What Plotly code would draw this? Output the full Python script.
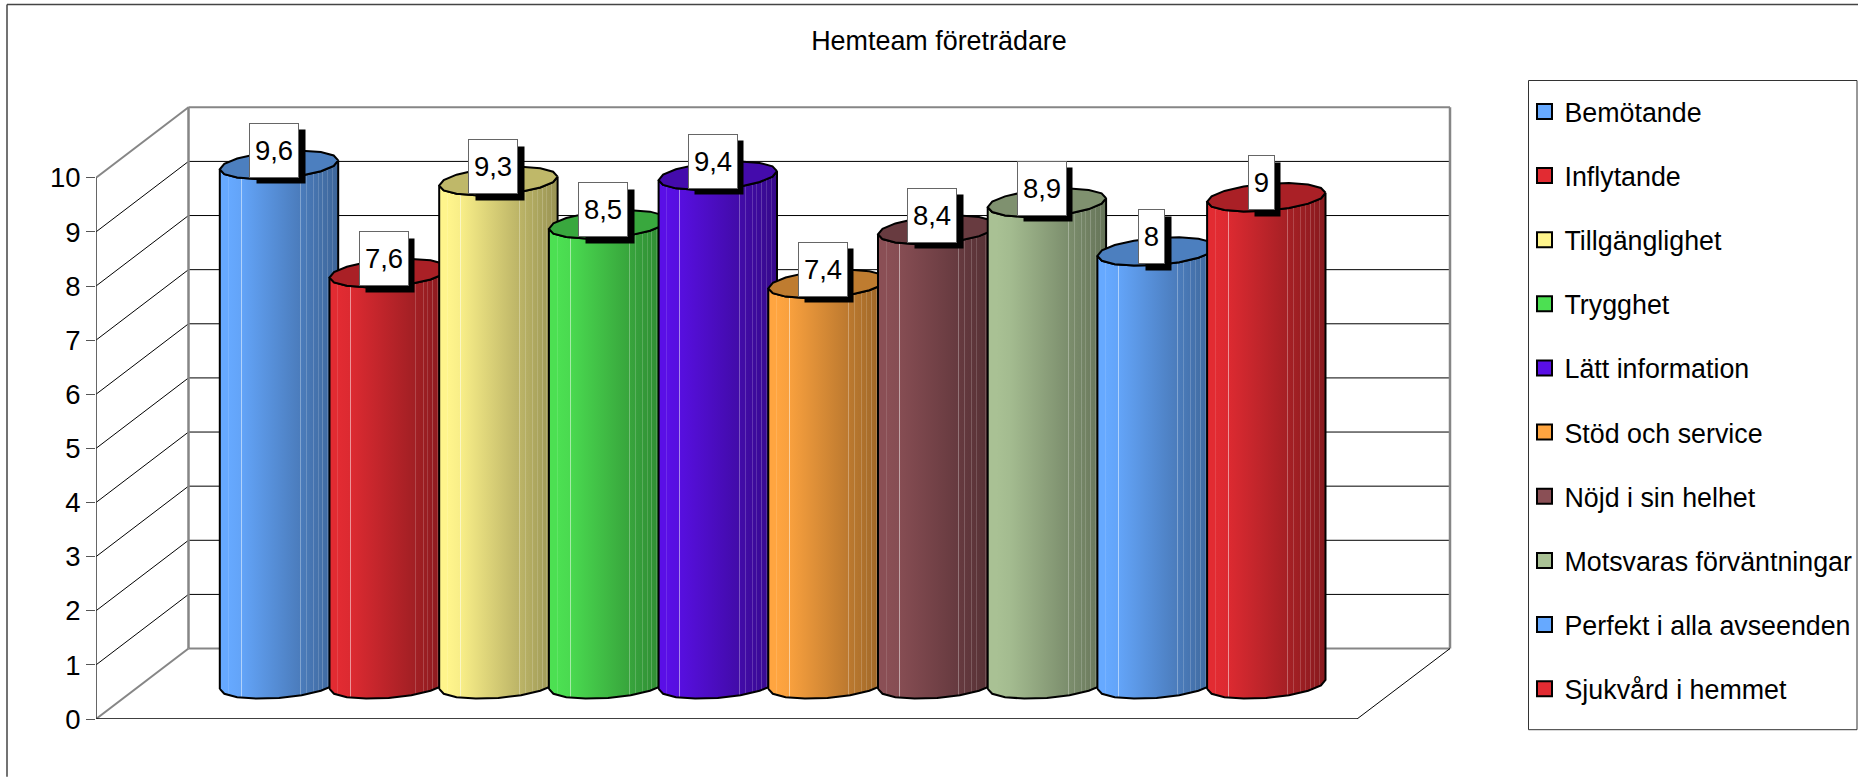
import math
import plotly.graph_objects as go

categories = ["Bemötande", "Inflytande", "Tillgänglighet", "Trygghet", "Lätt information",
              "Stöd och service", "Nöjd i sin helhet", "Motsvaras förväntningar",
              "Perfekt i alla avseenden", "Sjukvård i hemmet"]
values = [9.6, 7.6, 9.3, 8.5, 9.4, 7.4, 8.4, 8.9, 8, 9]
colors = ["#66A9FF", "#E22B32", "#FFF58C", "#4CE052", "#5A0FE6",
          "#FFA540", "#8A4F55", "#A9C194", "#66A9FF", "#E22B32"]
y_ticks = list(range(0, 11))
title_text = "Hemteam företrädare"

W, H = 1858, 777
FONT = "Liberation Sans"
FS = 26.9
FS_LABEL = 27.5
FS_LEG = 26.8
PX_CAT = 109.7      # pixels per category
PX_UNIT = 54.15     # pixels per value unit
X0_PX = 279.0       # pixel of category 0
Y0_PX = 719.3       # pixel of value 0
L_PX, R_PX, T_PX = 96.0, 1500.0, 90.0


def xd(px):
    return (px - X0_PX) / PX_CAT


def dy(px):
    return px / PX_UNIT


BASE_LIFT = dy(Y0_PX - 684.7)
A = 59.2 / PX_CAT
B = dy(13.5)
TILT = dy(4.5)
N = 16


def shade(hexc, f):
    r, g, b = int(hexc[1:3], 16), int(hexc[3:5], 16), int(hexc[5:7], 16)
    return f"rgb({round(r*f)},{round(g*f)},{round(b*f)})"


def lighten(hexc, f, amt):
    r, g, b = int(hexc[1:3], 16) * f, int(hexc[3:5], 16) * f, int(hexc[5:7], 16) * f
    return f"rgb({round(r+(255-r)*amt)},{round(g+(255-g)*amt)},{round(b+(255-b)*amt)})"


def sh(t):
    if t < 0.12:
        return 1.0
    if t < 0.67:
        return 1.0 - 0.26 * (t - 0.12) / 0.55
    return 0.74 - 0.14 * (t - 0.67) / 0.33


LINES = [(0.07, 0.12), (0.18, 0.5), (0.68, 0.3), (0.73, 0.18), (0.79, 0.18),
         (0.83, 0.15), (0.87, 0.2), (0.91, 0.15), (0.95, 0.15)]


def gradient(c):
    stops = [[0.0, shade(c, 1.0)]]
    for t, amt in LINES:
        stops += [[t - 0.004, shade(c, sh(t))], [t - 0.004, lighten(c, sh(t), amt)],
                  [t + 0.004, lighten(c, sh(t), amt)], [t + 0.004, shade(c, sh(t))]]
    stops.append([1.0, shade(c, sh(1.0))])
    return stops


def rim(cx, cy, a0, a1, n):
    xs, ys = [], []
    for i in range(n + 1):
        th = math.radians(a0 + (a1 - a0) * i / n)
        xs.append(cx + A * math.cos(th))
        ys.append(cy + B * math.sin(th) + TILT * math.cos(th))
    return xs, ys


fig = go.Figure()


def seg(xpx, ypx_vals, color, width):
    fig.add_trace(go.Scatter(x=[xd(p) for p in xpx], y=ypx_vals, mode="lines",
                             line=dict(color=color, width=width), hoverinfo="skip",
                             showlegend=False, cliponaxis=False))


# walls: (front x, back x) with depth rising by D
D = dy(70.5)
BL, BR, FR = 188.5, 1450.0, 1357.0
for t in y_ticks:
    if 0 < t < 10:
        seg([96, BL], [t, t + D], "#000000", 1)
        seg([BL, BR], [t + D, t + D], "#000000", 1)
seg([BL, BR], [D, D], "#868686", 2)
seg([BL, BR], [y_ticks[-1] + D, y_ticks[-1] + D], "#868686", 2)
seg([BL, BL], [D, y_ticks[-1] + D], "#868686", 2.5)
seg([BR, BR], [D, y_ticks[-1] + D], "#868686", 2.5)
seg([96, BL], [0, D], "#868686", 2)
seg([96, BL], [y_ticks[-1], y_ticks[-1] + D], "#868686", 2)
seg([96, FR], [0, 0], "#000000", 1.5)
seg([FR, BR], [0, D], "#000000", 1)
seg([96, 96], [0, y_ticks[-1]], "#333333", 1.5)

# cylinders
for i, (name, v, c) in enumerate(zip(categories, values, colors)):
    base = BASE_LIFT
    top = v + BASE_LIFT
    bx, by = rim(i, base, 180, 360, N // 2)
    tx, ty = rim(i, top, 0, -180, N // 2)
    fig.add_trace(go.Scatter(
        x=bx + tx + [bx[0]], y=by + ty + [by[0]], mode="lines", fill="toself",
        fillgradient=dict(type="horizontal", colorscale=gradient(c)),
        line=dict(color="#000000", width=2), hoverinfo="skip",
        showlegend=False, cliponaxis=False))
    ex, ey = rim(i, top, 0, 360, N)
    fig.add_trace(go.Scatter(
        x=ex, y=ey, mode="lines", fill="toself", fillcolor=shade(c, 0.75),
        line=dict(color="#000000", width=2), hoverinfo="skip",
        showlegend=False, cliponaxis=False))

# legend
for name, c in zip(categories, colors):
    fig.add_trace(go.Scatter(x=[None], y=[None], mode="markers", name=name, legendgroup=name,
                             marker=dict(symbol="square", size=15, color=c,
                                         line=dict(color="#000000", width=2))))

# data labels
annotations = []
for i, v in enumerate(values):
    txt = str(v).replace(".", ",")
    w = 48 if len(txt) > 1 else 25
    ax, ay = i - 5 / PX_CAT, v + BASE_LIFT + dy(14.5)
    annotations.append(dict(x=ax + 6.5 / PX_CAT, y=ay - dy(6.5), text=" ", showarrow=False,
                            width=w, height=53, bgcolor="#000000", borderpad=0,
                            font=dict(family=FONT, size=10)))
    annotations.append(dict(x=ax, y=ay, text=txt, showarrow=False, width=w, height=53,
                            bgcolor="#FFFFFF", bordercolor="#666666", borderwidth=1, borderpad=0,
                            font=dict(family=FONT, size=FS_LABEL, color="#000000")))

shapes = [
    dict(type="line", xref="paper", yref="paper",
         x0=(7 - L_PX) / (R_PX - L_PX), x1=(W - L_PX) / (R_PX - L_PX),
         y0=(Y0_PX - 4.5) / (Y0_PX - T_PX), y1=(Y0_PX - 4.5) / (Y0_PX - T_PX),
         line=dict(color="#444444", width=1.5)),
    dict(type="line", xref="paper", yref="paper",
         x0=(7 - L_PX) / (R_PX - L_PX), x1=(7 - L_PX) / (R_PX - L_PX),
         y0=(Y0_PX - H) / (Y0_PX - T_PX), y1=(Y0_PX - 4.5) / (Y0_PX - T_PX),
         line=dict(color="#444444", width=1.5)),
    dict(type="rect", xref="paper", yref="paper",
         x0=(1528.5 - L_PX) / (R_PX - L_PX), x1=(1857 - L_PX) / (R_PX - L_PX),
         y0=(Y0_PX - 730) / (Y0_PX - T_PX), y1=(Y0_PX - 80.5) / (Y0_PX - T_PX),
         line=dict(color="#333333", width=1), fillcolor="rgba(0,0,0,0)"),
]

fig.update_layout(
    width=W, height=H, autosize=False,
    paper_bgcolor="#FFFFFF", plot_bgcolor="rgba(0,0,0,0)",
    margin=dict(l=L_PX, r=W - R_PX, t=T_PX, b=H - Y0_PX, pad=0, autoexpand=False),
    font=dict(family=FONT, size=FS, color="#000000"),
    title=dict(text=title_text, xref="container", yref="container", x=939 / W, xanchor="center",
               y=1 - 41 / H, yanchor="middle", font=dict(family=FONT, size=FS, color="#000000")),
    xaxis=dict(visible=False, range=[xd(L_PX), xd(R_PX)], fixedrange=True),
    yaxis=dict(range=[0, (Y0_PX - T_PX) / PX_UNIT], tickmode="array", tickvals=y_ticks,
               ticktext=[str(t) for t in y_ticks], showgrid=False, zeroline=False, showline=False,
               ticks="outside", ticklen=9, tickwidth=1, tickcolor="#555555",
               tickfont=dict(family=FONT, size=FS_LABEL, color="#000000"), fixedrange=True),
    showlegend=True,
    legend=dict(xref="container", yref="container", x=1524.5 / W, xanchor="left",
                y=1 - 87.5 / H, yanchor="top", bgcolor="rgba(0,0,0,0)", borderwidth=0,
                tracegroupgap=26.3, itemwidth=30, traceorder="grouped", maxheight=720,
                font=dict(family=FONT, size=FS_LEG, color="#000000")),
    annotations=annotations,
    shapes=shapes,
)

fig.write_html("out.html", config={"displayModeBar": False},
               post_script="document.body.style.margin='0';document.body.style.overflow='hidden';")
